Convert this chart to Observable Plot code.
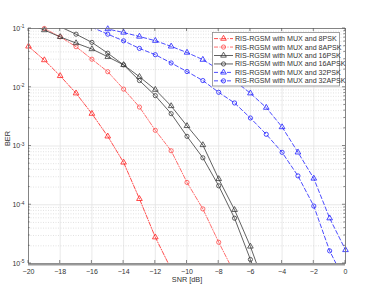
<!DOCTYPE html>
<html><head><meta charset="utf-8">
<script src="https://cdn.jsdelivr.net/npm/d3@7"></script>
<script src="https://cdn.jsdelivr.net/npm/@observablehq/plot@0.6"></script>
<style>
body{margin:0;background:#fff;font-family:"Liberation Sans",Arial,sans-serif;}
#wrap{position:relative;width:374px;height:293px;}
#legend{position:absolute;left:0;top:0;}
</style></head>
<body><div id="wrap"></div>
<script>
const xTicks = [-20,-18,-16,-14,-12,-10,-8,-6,-4,-2,0];
const yTicks = [1e-5,1e-4,1e-3,1e-2,1e-1];
const yTickExponents = ["-5","-4","-3","-2","-1"];
const seriesNames = ["RIS-RGSM with MUX and 8PSK","RIS-RGSM with MUX and 8APSK","RIS-RGSM with MUX and 16PSK","RIS-RGSM with MUX and 16APSK","RIS-RGSM with MUX and 32PSK","RIS-RGSM with MUX and 32APSK"];
const seriesColors = ["#ff2020","#ff4a4a","#3a3a3a","#3a3a3a","#2020ff","#2020ff"];
const seriesDash = ["4,1.5,1,1.5","4,1.5,1,1.5",null,null,"4,2.5","4,2.5"];
const seriesSymbol = ["triangle","circle","triangle","circle","triangle","circle"];

const snr8PSK = [-20,-19,-18,-17,-16,-15,-14,-13,-12,-11];
const ber8PSK = [0.0496,0.029,0.0156,0.0079,0.00355,0.00146,5.25e-4,1.26e-4,2.8e-5,8e-6];
const snr8APSK = [-20,-19,-18,-17,-16,-15,-14,-13,-12,-11,-10,-9,-8,-7];
const ber8APSK = [0.14,0.1,0.072,0.049,0.030,0.0184,0.0093,0.0046,0.00185,8.3e-4,2.4e-4,8.5e-5,2.3e-5,6.8e-6];
const snr16PSK = [-20,-19,-18,-17,-16,-15,-14,-13,-12,-11,-10,-9,-8,-7,-6,-5];
const ber16PSK = [0.12,0.094,0.072,0.0565,0.0447,0.033,0.024,0.0151,0.0091,0.0048,0.0022,0.00104,2.75e-4,8.2e-5,1.95e-5,3.5e-6];
const snr16APSK = [-18,-17,-16,-15,-14,-13,-12,-11,-10,-9,-8,-7,-6,-5];
const ber16APSK = [0.107,0.080,0.058,0.038,0.024,0.013,0.0072,0.00355,0.00146,6.3e-4,2.1e-4,5.9e-5,1.17e-5,2.3e-6];
const snr32PSK = [-16,-15,-14,-13,-12,-11,-10,-9,-8,-7,-6,-5,-4,-3,-2,-1,0];
const ber32PSK = [0.108,0.098,0.0855,0.073,0.062,0.0496,0.039,0.0295,0.020,0.0129,0.0079,0.0045,0.0021,7.8e-4,2.8e-4,5.9e-5,1.7e-5];
const snr32APSK = [-16,-15,-14,-13,-12,-11,-10,-9,-8,-7,-6,-5,-4,-3,-2,-1,0];
const ber32APSK = [0.105,0.080,0.0617,0.0458,0.0358,0.0259,0.0185,0.013,0.0082,0.0054,0.0030,0.00158,7.8e-4,3.1e-4,9.5e-5,1.64e-5,4.8e-6];

const allX = [snr8PSK,snr8APSK,snr16PSK,snr16APSK,snr32PSK,snr32APSK];
const allY = [ber8PSK,ber8APSK,ber16PSK,ber16APSK,ber32PSK,ber32APSK];
const series = allX.map((xs,i)=>xs.map((x,j)=>({snr:x,ber:allY[i][j],s:i})));

const minorY = [];
for (const d of [1e-5,1e-4,1e-3,1e-2]) for (let k=2;k<=9;k++) minorY.push(d*k);

const marks = [
  Plot.ruleX(xTicks,{stroke:"#e3e3e3",strokeWidth:0.8}),
  Plot.ruleY(minorY,{stroke:"#d6d6d6",strokeWidth:0.7,strokeDasharray:"1,1.5"}),
  Plot.ruleY(yTicks,{stroke:"#e3e3e3",strokeWidth:0.8}),
];
series.forEach((d,i)=>{
  marks.push(Plot.line(d,{x:"snr",y:"ber",stroke:seriesColors[i],strokeWidth:0.8,strokeDasharray:seriesDash[i],clip:true}));
  marks.push(Plot.dot(d.filter(p=>p.ber<=0.1001&&p.ber>=1e-5),{x:"snr",y:"ber",symbol:()=>seriesSymbol[i],stroke:seriesColors[i],fill:"none",r:2.1,strokeWidth:0.8}));
});
const tickStroke = "#555";
marks.push(
  Plot.axisX({ticks:xTicks,tickSize:0,anchor:"bottom",tickPadding:6,fontSize:7,fill:"#333"}),
  Plot.axisY({ticks:yTicks,tickFormat:()=>"10",anchor:"left",tickSize:0,tickPadding:7,fontSize:7,fill:"#333"}),
  Plot.frame({stroke:"#7a7a7a",strokeWidth:0.9}),
  Plot.ruleY([1e-5],{stroke:"#9a9a9a",strokeWidth:2,dy:1}),
  Plot.text(["SNR [dB]"],{frameAnchor:"bottom",dy:18,fontSize:7.3,fill:"#333"}),
  Plot.text(["BER"],{frameAnchor:"left",dx:-21,rotate:-90,fontSize:7.3,fill:"#333"})
);

const chart = Plot.plot({
  width:374,height:293,
  marginLeft:28,marginRight:29,marginTop:28,marginBottom:30,
  style:{fontFamily:"Liberation Sans, Arial, sans-serif",color:"#333",background:"#fff",overflow:"visible"},
  x:{domain:[-20,0],label:null},
  y:{type:"log",domain:[1e-5,1e-1],label:null},
  marks
});
const wrap = document.getElementById("wrap");
wrap.appendChild(chart);

// inside ticks drawn from the chart's own scales
const sx = chart.scale("x"), sy = chart.scale("y");
const svg = d3.select(chart);
const x0 = sx.apply(-20), x1 = sx.apply(0), yb = sy.apply(1e-5), yt = sy.apply(1e-1);
const tg = svg.append("g").attr("stroke",tickStroke).attr("stroke-width",0.7);
xTicks.forEach(v=>{
  const px = sx.apply(v);
  tg.append("line").attr("x1",px).attr("x2",px).attr("y1",yb).attr("y2",yb-3);
  tg.append("line").attr("x1",px).attr("x2",px).attr("y1",yt).attr("y2",yt+3);
});
yTicks.forEach(v=>{
  const py = sy.apply(v);
  tg.append("line").attr("x1",x0).attr("x2",x0+3).attr("y1",py).attr("y2",py);
  tg.append("line").attr("x1",x1).attr("x2",x1-3).attr("y1",py).attr("y2",py);
});
minorY.forEach(v=>{
  const py = sy.apply(v);
  tg.append("line").attr("x1",x0).attr("x2",x0+1.6).attr("y1",py).attr("y2",py);
  tg.append("line").attr("x1",x1).attr("x2",x1-1.6).attr("y1",py).attr("y2",py);
});
// superscript exponents on y tick labels
svg.selectAll('g[aria-label="y-axis tick label"] text').each(function(d,i){
  const t = d3.select(this);
  t.text("10");
  t.append("tspan").attr("dy","-0.5em").attr("font-size","4.8px").text(yTickExponents[i]);
});
svg.selectAll('g[aria-label="y-axis tick label"] text').attr("dx","3");

// legend overlay
const lg = d3.select(wrap).append("svg").attr("id","legend").attr("width",374).attr("height",293)
  .style("font-family","Liberation Sans, Arial, sans-serif");
lg.append("rect").attr("x",212.5).attr("y",32.5).attr("width",127).attr("height",53.5)
  .attr("fill","#fff").attr("stroke","#8a8a8a").attr("stroke-width",0.8);
const sym = {triangle:d3.symbolTriangle,circle:d3.symbolCircle};
seriesNames.forEach((n,i)=>{
  const y = 38.6 + i*8.45;
  lg.append("line").attr("x1",214).attr("x2",233).attr("y1",y).attr("y2",y)
    .attr("stroke",seriesColors[i]).attr("stroke-width",0.8).attr("stroke-dasharray",seriesDash[i]);
  lg.append("path").attr("d",d3.symbol(sym[seriesSymbol[i]],14)()).attr("transform",`translate(223.5,${y})`)
    .attr("fill","none").attr("stroke",seriesColors[i]).attr("stroke-width",0.8);
  lg.append("text").attr("x",235).attr("y",y).attr("dy","0.35em").attr("font-size",7.1).attr("fill","#333").text(n);
});
</script></body></html>
